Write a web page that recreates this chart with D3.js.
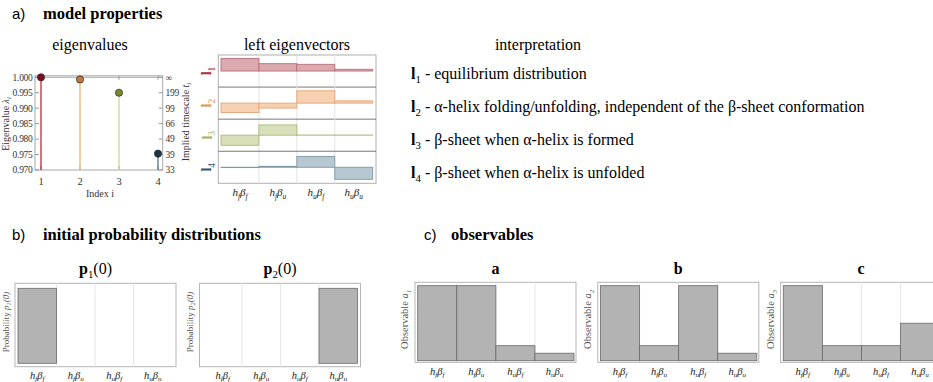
<!DOCTYPE html>
<html>
<head>
<meta charset="utf-8">
<script src="https://cdn.jsdelivr.net/npm/d3@7"></script>
<style>
body { margin: 0; background: #fff; }
text { font-family: "Liberation Serif", "Times New Roman", serif; }
</style>
</head>
<body>
<svg id="fig" width="933" height="382"></svg>
<script>
// states: helix (h) and sheet (beta) folded / unfolded
const states = [['f', 'f'], ['f', 'u'], ['u', 'f'], ['u', 'u']]

// a) eigenvalues
const eigIndex = [1, 2, 3, 4]
const eigenvalues = [1.0, 0.9993, 0.995, 0.9753]
const eigTicks = [0.970, 0.975, 0.980, 0.985, 0.990, 0.995, 1.000]
const timescaleLabels = ['33', '39', '49', '66', '99', '199', '\u221e']

// a) left eigenvectors, one row per eigenvector
const l1 = [0.78, 0.46, 0.42, 0.11]
const l2 = [-0.59, -0.31, 0.77, 0.14]
const l3 = [-0.63, 0.64, 0.01, 0.01]
const l4 = [-0.02, 0.06, 0.68, -0.75]
const eigvecs = [l1, l2, l3, l4]

const interpretations = [
	' - equilibrium distribution',
	' - \u03b1-helix folding/unfolding, independent of the \u03b2-sheet conformation',
	' - \u03b2-sheet when \u03b1-helix is formed',
	' - \u03b2-sheet when \u03b1-helix is unfolded'
]

// b) initial distributions
const p1 = [1, 0, 0, 0]
const p2 = [0, 0, 0, 1]

// c) observables
const obsA = [1, 1, 0.2, 0.1]
const obsB = [1, 0.2, 1, 0.1]
const obsC = [1, 0.2, 0.2, 0.5]

const dotColors = ['#7a0f1e', '#c27a3c', '#7d8a2c', '#1b3446']
const stemColors = ['#b3303e', '#e3b57c', '#cdd3a0', '#4e7892']
const vecFill = ['#dba9b0', '#f6d2b2', '#d9e0b9', '#b8c8d1']
const vecEdge = ['#b8717c', '#e3a475', '#aab97c', '#7d97a6']
const vecLabel = ['#a8303f', '#d99552', '#a9b061', '#2f5878']

const svg = d3.select('#fig')
svg.append('rect').attr('width', 933).attr('height', 382).attr('fill', '#fff')

// write text made of styled pieces (italic / bold / subscript)
const rich = (text, parts, size) => {
	let off = 0
	parts.forEach(p => {
		const ts = text.append('tspan').text(p.t)
		const want = p.sub ? size * 0.25 : 0
		if (want !== off) { ts.attr('dy', want - off); off = want }
		if (p.sub) ts.attr('font-size', size * 0.68)
		if (p.i) ts.attr('font-style', 'italic')
		if (p.b) ts.attr('font-weight', 'bold')
	})
	return text
}

const stateParts = s => [
	{ t: 'h', i: 1 }, { t: s[0], i: 1, sub: 1 },
	{ t: '\u03b2', i: 1 }, { t: s[1], i: 1, sub: 1 }
]

const label = (x, y, size, parts, opts = {}) => {
	const t = svg.append('text')
		.attr('x', x).attr('y', y)
		.attr('font-size', size)
		.attr('text-anchor', opts.anchor || 'middle')
		.attr('fill', opts.fill || '#000')
	if (opts.rotate) t.attr('transform', `rotate(-90,${x},${y})`)
	if (opts.weight) t.attr('font-weight', opts.weight)
	if (opts.family) t.style('font-family', opts.family)
	if (opts.spacing) t.attr('letter-spacing', opts.spacing)
	return rich(t, parts, size)
}

// section headings
const heading = (x, tx, y, letter, title) => {
	label(x, y, 15, [{ t: letter }], { anchor: 'start', family: '"Liberation Sans", Arial, sans-serif' })
	label(tx, y, 16.5, [{ t: title }], { anchor: 'start', weight: 'bold' })
}
heading(12, 43, 19, 'a)', 'model properties')
heading(12, 43, 240, 'b)', 'initial probability distributions')
heading(424, 451, 240, 'c)', 'observables')

// ---------- eigenvalues ----------
const ex = d3.scaleLinear().domain([1, 4]).range([41, 158])
const ey = d3.scaleLinear().domain([0.970, 1.000]).range([170, 77.3])
const ef = { x0: 35, x1: 162.7, y0: 75.8, y1: 170 }

label(90, 50, 16, [{ t: 'eigenvalues' }])
svg.append('rect')
	.attr('x', ef.x0).attr('y', ef.y0)
	.attr('width', ef.x1 - ef.x0).attr('height', ef.y1 - ef.y0)
	.attr('fill', 'none').attr('stroke', '#a8a8a8')
svg.append('line')
	.attr('x1', ef.x0).attr('x2', ef.x1)
	.attr('y1', ey(1)).attr('y2', ey(1))
	.attr('stroke', '#a8a8a8')

eigTicks.forEach((v, i) => {
	svg.append('line').attr('x1', ef.x0).attr('x2', ef.x0 + 4)
		.attr('y1', ey(v)).attr('y2', ey(v)).attr('stroke', '#999')
	svg.append('line').attr('x1', ef.x1).attr('x2', ef.x1 - 4)
		.attr('y1', ey(v)).attr('y2', ey(v)).attr('stroke', '#999')
	label(32.5, ey(v) + 3.3, 9.5, [{ t: d3.format('.3f')(v) }], { anchor: 'end', fill: '#333', spacing: -0.3 })
	label(165.5, ey(v) + 3.3, 9.5, [{ t: timescaleLabels[i] }], { anchor: 'start', fill: '#333', spacing: -0.2 })
})
eigIndex.forEach(i => {
	svg.append('line').attr('x1', ex(i)).attr('x2', ex(i))
		.attr('y1', ef.y1).attr('y2', ef.y1 - 4).attr('stroke', '#999')
	svg.append('line').attr('x1', ex(i)).attr('x2', ex(i))
		.attr('y1', ef.y0).attr('y2', ef.y0 + 4).attr('stroke', '#999')
	label(ex(i), 185, 10.5, [{ t: String(i) }], { fill: '#333' })
})
label(100, 197, 10, [{ t: 'Index i' }], { fill: '#333' })
label(8.5, 124, 10, [{ t: 'Eigenvalue ' }, { t: '\u03bb', i: 1 }, { t: 'i', i: 1, sub: 1 }], { rotate: true, fill: '#333' })
label(188.5, 122, 10, [{ t: 'Implied timescale ' }, { t: 't', i: 1 }, { t: 'i', i: 1, sub: 1 }], { rotate: true, fill: '#333' })

svg.append('g').selectAll('line')
	.data(eigenvalues)
	.join('line')
	.attr('x1', (d, i) => ex(eigIndex[i])).attr('x2', (d, i) => ex(eigIndex[i]))
	.attr('y1', ey(0.970)).attr('y2', d => ey(d))
	.attr('stroke', (d, i) => stemColors[i])
	.attr('stroke-width', 1.3)
svg.append('g').selectAll('circle')
	.data(eigenvalues)
	.join('circle')
	.attr('cx', (d, i) => ex(eigIndex[i])).attr('cy', d => ey(d))
	.attr('r', 3.6)
	.attr('fill', (d, i) => dotColors[i])
	.attr('stroke', '#222').attr('stroke-width', 0.7)

// ---------- left eigenvectors ----------
const vx = d3.scaleBand().domain(d3.range(4)).range([221, 372.7])
const rows = d3.scaleBand().domain(d3.range(4)).range([55, 183.3])
const vf = { x0: 218.3, x1: 376 }

label(297, 50, 16, [{ t: 'left eigenvectors' }])
svg.append('rect')
	.attr('x', vf.x0).attr('y', rows(0))
	.attr('width', vf.x1 - vf.x0).attr('height', rows.step() * 4)
	.attr('fill', 'none').attr('stroke', '#b0b0b0')
d3.range(1, 4).forEach(i => {
	svg.append('line').attr('x1', vx(i)).attr('x2', vx(i))
		.attr('y1', rows(0)).attr('y2', rows(3) + rows.step())
		.attr('stroke', '#e4e4e4')
	svg.append('line').attr('x1', vf.x0).attr('x2', vf.x1)
		.attr('y1', rows(i)).attr('y2', rows(i))
		.attr('stroke', '#777')
})
eigvecs.forEach((vec, r) => {
	const mid = rows(r) + rows.step() / 2
	const vy = d3.scaleLinear().domain([-1, 1]).range([mid + 16, mid - 16])
	svg.append('g').selectAll('rect')
		.data(vec)
		.join('rect')
		.attr('x', (d, i) => vx(i)).attr('width', vx.bandwidth())
		.attr('y', d => Math.min(vy(d), vy(0)))
		.attr('height', d => Math.abs(vy(d) - vy(0)))
		.attr('fill', vecFill[r]).attr('stroke', vecEdge[r]).attr('stroke-width', 0.9)
	label(211.5, mid, 14, [{ t: 'l', b: 1 }, { t: String(r + 1), sub: 1 }], { rotate: true, fill: vecLabel[r] })
})
states.forEach((s, i) => {
	label(vx(i) + vx.bandwidth() / 2, 196, 11, stateParts(s), { fill: '#222' })
})

// ---------- interpretation ----------
label(538, 50, 16, [{ t: 'interpretation' }])
interpretations.forEach((txt, i) => {
	label(411, 79 + i * 33, 16, [{ t: 'l', b: 1 }, { t: String(i + 1), sub: 1 }, { t: txt }], { anchor: 'start' })
})

// ---------- bar panels (b and c) ----------
const barPanel = (values, f, p, title, yParts, ySize) => {
	const x = d3.scaleBand().domain(d3.range(4)).range([p.x0, p.x1])
	const y = d3.scaleLinear().domain([0, 1]).range([p.base, p.top])
	svg.append('rect')
		.attr('x', f.x0).attr('y', f.y0)
		.attr('width', f.x1 - f.x0).attr('height', f.y1 - f.y0)
		.attr('fill', 'none').attr('stroke', '#b5b5b5')
	d3.range(1, 4).forEach(i => {
		svg.append('line').attr('x1', x(i)).attr('x2', x(i))
			.attr('y1', f.y0).attr('y2', f.y1)
			.attr('stroke', '#e6e6e6')
	})
	svg.append('g').selectAll('rect')
		.data(values)
		.join('rect')
		.attr('x', (d, i) => x(i)).attr('width', x.bandwidth())
		.attr('y', d => y(d)).attr('height', d => y(0) - y(d))
		.attr('fill', '#b3b3b3').attr('stroke', '#6a6a6a').attr('stroke-width', 0.8)
	states.forEach((s, i) => {
		label(x(i) + x.bandwidth() / 2, p.lab, 10.5, stateParts(s), { fill: '#222' })
	})
	const cx = (f.x0 + f.x1) / 2
	label(cx, 274, 16, title)
	label(f.x0 - 6.5, (f.y0 + f.y1) / 2 - 3, ySize, yParts, { rotate: true, fill: '#555' })
}

const probFrame = dx => ({ x0: 15 + dx, x1: 176 + dx, y0: 283.3, y1: 366.7 })
const probPlot = dx => ({ x0: 18 + dx, x1: 172 + dx, top: 288.3, base: 363.3, lab: 378.5 })
barPanel(p1, probFrame(0), probPlot(0),
	[{ t: 'p', b: 1 }, { t: '1', sub: 1 }, { t: '(0)' }],
	[{ t: 'Probability ' }, { t: 'p', i: 1 }, { t: '1', i: 1, sub: 1 }, { t: '(0)', i: 1 }], 9)
barPanel(p2, probFrame(184.5), probPlot(185.5),
	[{ t: 'p', b: 1 }, { t: '2', sub: 1 }, { t: '(0)' }],
	[{ t: 'Probability ' }, { t: 'p', i: 1 }, { t: '2', i: 1, sub: 1 }, { t: '(0)', i: 1 }], 9)

const obsFrame = dx => ({ x0: 415 + dx, x1: 576 + dx, y0: 282.3, y1: 362.3 })
const obsPlot = dx => ({ x0: 417.7 + dx, x1: 574 + dx, top: 285.7, base: 360.7, lab: 374.5 })
const obsSets = [obsA, obsB, obsC]
const obsNames = ['a', 'b', 'c']
obsSets.forEach((vals, k) => {
	const dx = k * 182.8
	barPanel(vals, obsFrame(dx), obsPlot(dx),
		[{ t: obsNames[k], b: 1 }],
		[{ t: 'Observable ' }, { t: 'a', i: 1 }, { t: String(k + 1), i: 1, sub: 1 }], 10.5)
})
</script>
</body>
</html>
